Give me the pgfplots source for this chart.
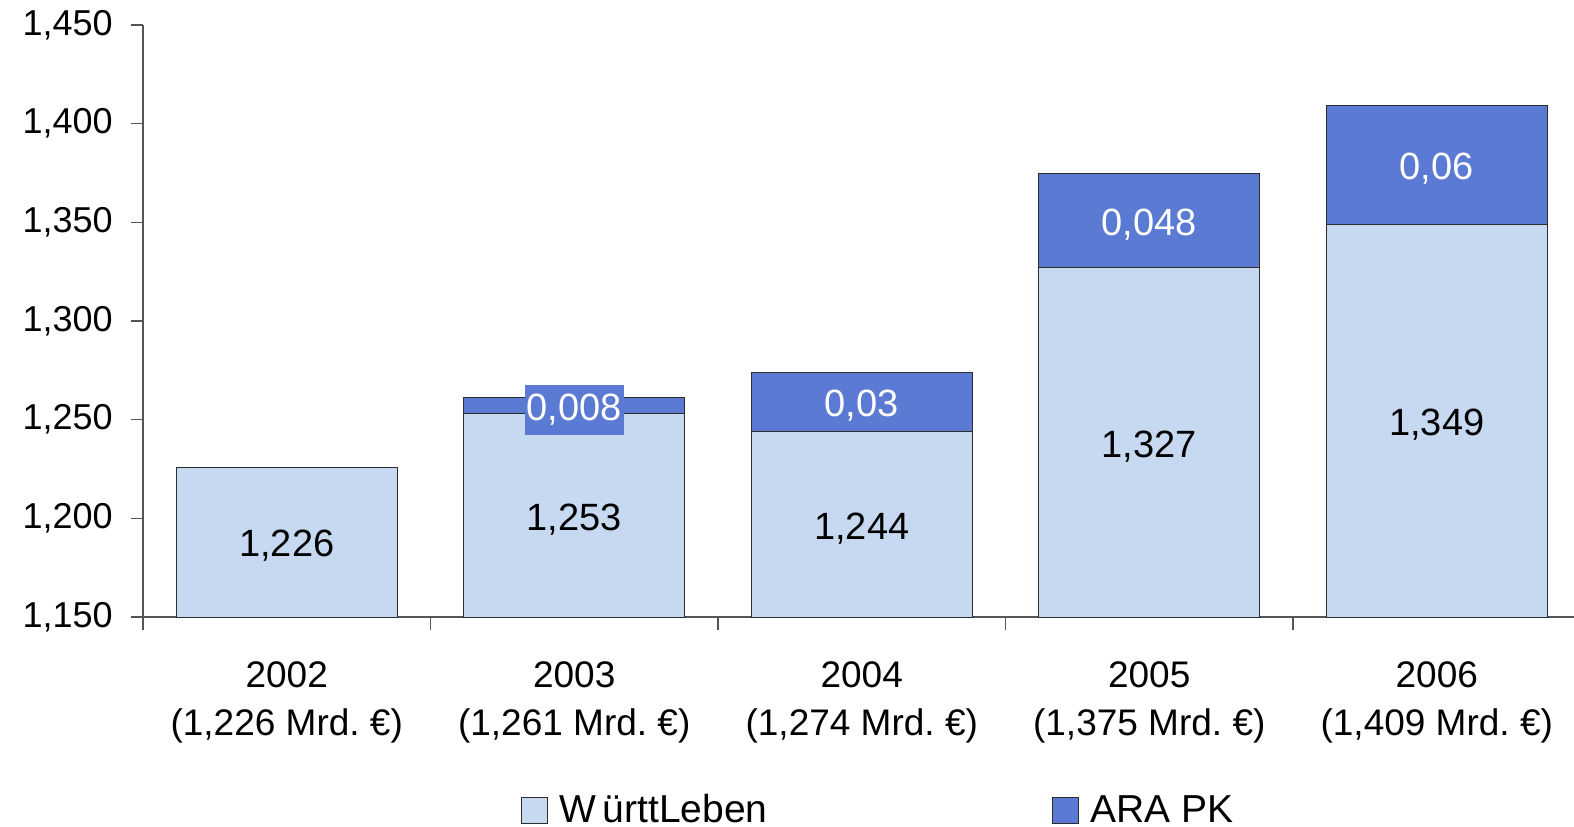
\documentclass[border=0pt]{standalone}
\usepackage{pgfplots}
\pgfplotsset{compat=1.18}
\usepackage{pgfplotstable}
\usepackage{fontspec}
\setmainfont{Liberation Sans}
\definecolor{wlc}{RGB}{198,217,240}
\definecolor{arac}{RGB}{90,122,212}
\definecolor{edgec}{RGB}{45,45,45}
\definecolor{axg}{RGB}{85,85,85}

\pgfplotstableread{
x w a wl al
0 1226 0 1,226 none
1 1253 8 1,253 0,008
2 1244 30 1,244 0,03
3 1327 48 1,327 0,048
4 1349 60 1,349 0,06
}\data

\pgfplotsset{
  sqlegend/.style={legend image code/.code={\draw[##1] (0pt,-6.75pt) rectangle (13pt,6.25pt);}},
  common/.style={
    at={(71.5pt,-308.5pt)}, anchor=south west,
    scale only axis, width=718.75pt, height=296pt,
    xmin=-0.5, xmax=4.5, ymin=1150, ymax=1450,
  }
}

\begin{document}
\begin{tikzpicture}
\begin{axis}[common,
  ybar stacked, bar width=110.5pt,
  axis x line*=bottom, axis y line*=left,
  axis line style={-, draw=axg, line width=0.75pt},
  xtick={0,1,2,3,4},
  xticklabels={{2002\\(1,226 Mrd.~€)},{2003\\(1,261 Mrd.~€)},{2004\\(1,274 Mrd.~€)},{2005\\(1,375 Mrd.~€)},{2006\\(1,409 Mrd.~€)}},
  minor xtick={-0.5,0.5,1.5,2.5,3.5,4.5},
  ytick={1150,1200,1250,1300,1350,1400,1450},
  yticklabels={{1,150},{1,200},{1,250},{1,300},{1,350},{1,400},{1,450}},
  tick align=outside, major tick length=6pt, minor tick length=6.5pt,
  tick style={draw=axg, line width=0.75pt},
  major x tick style={draw=none},
  yticklabel style={font=\fontsize{18}{18}\selectfont, inner sep=0pt, anchor=east, xshift=-9pt},
  xticklabel style={font=\fontsize{18.5}{24}\selectfont, align=center, inner sep=0pt, anchor=north, yshift=-16pt},
  legend columns=2,
  legend style={at={(0.26296,-0.3530)}, anchor=south west, draw=none, fill=none,
    inner sep=0pt, outer sep=0pt, font=\fontsize{19.5}{19.5}\selectfont,
    nodes={inner sep=0pt},
    /tikz/every odd column/.append style={column sep=6pt},
    /tikz/every even column/.append style={column sep=142pt}},
]
\addplot[sqlegend, fill=wlc, draw=edgec, line width=0.5pt] table[x=x, y=w] {\data};
\addplot[sqlegend, fill=arac, draw=edgec, line width=0.5pt] table[x=x, y=a] {\data};
\legend{W\kern3ptürttLeben, ARA PK}
\end{axis}
\begin{axis}[common, hide axis, clip=false]
\addplot[draw=none, nodes near coords, point meta=explicit symbolic,
  every node near coord/.append style={anchor=center, yshift=-2pt, font=\fontsize{19}{19}\selectfont, text=black}]
  table[x=x, y expr=(\thisrow{w}+1150)/2, meta=wl] {\data};
\addplot[draw=none, nodes near coords, point meta=explicit symbolic,
  skip coords between index={0}{1},
  every node near coord/.append style={anchor=center, yshift=-2pt, font=\fontsize{19}{19}\selectfont, text=white, fill=arac, inner xsep=1pt, inner ysep=4.5pt}]
  table[x=x, y expr=\thisrow{w}+\thisrow{a}/2, meta=al] {\data};
\end{axis}
\pgfresetboundingbox
\useasboundingbox (0pt,0pt) rectangle (787pt,-413pt);
\end{tikzpicture}
\end{document}
